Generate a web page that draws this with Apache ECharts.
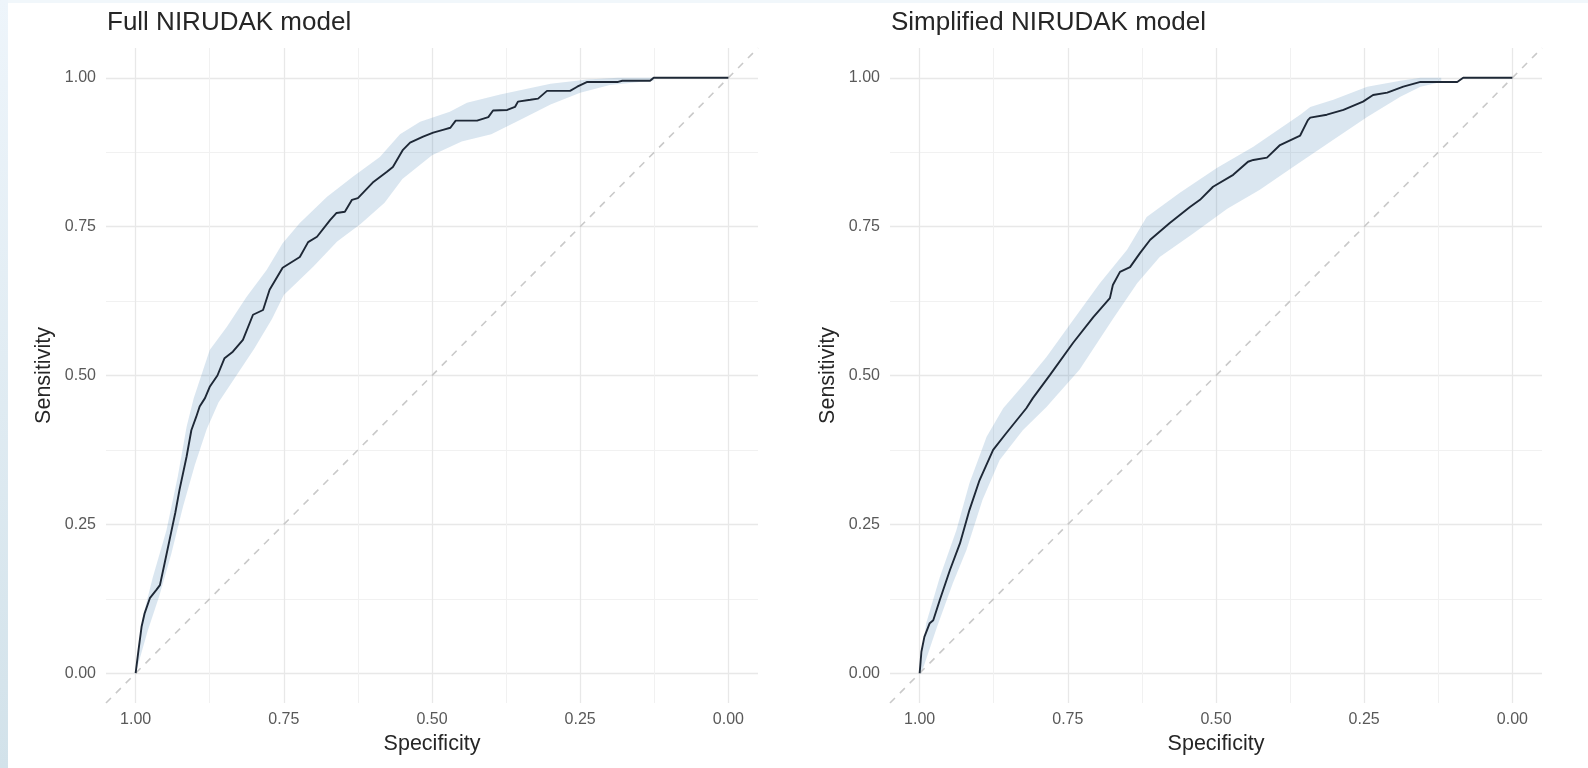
<!DOCTYPE html>
<html>
<head>
<meta charset="utf-8">
<script src="https://cdn.jsdelivr.net/npm/echarts@6/dist/echarts.min.js"></script>
<style>
  html, body { margin: 0; padding: 0; background: #ffffff; }
  #chart { width: 1588px; height: 768px; }
</style>
</head>
<body>
<div id="chart"></div>
<script>
// ---------- data ----------
const panelTitles = ['Full NIRUDAK model', 'Simplified NIRUDAK model'];
const xAxisTitle = 'Specificity';
const yAxisTitle = 'Sensitivity';
const majorTicks = [0, 0.25, 0.5, 0.75, 1];
const minorTicks = [0.125, 0.375, 0.625, 0.875];
const diagonal = [[1.05, -0.05], [-0.05, 1.05]];

// Full model ROC curve [specificity, sensitivity]
const fullCurve = [
  [1.0,0],[0.995,0.04],[0.99,0.078],[0.985,0.10],[0.976,0.126],[0.965,0.14],[0.959,0.148],
  [0.951,0.185],[0.94,0.237],[0.933,0.27],[0.926,0.308],[0.914,0.364],[0.906,0.408],[0.898,0.43],
  [0.892,0.448],[0.883,0.462],[0.875,0.481],[0.862,0.50],[0.85,0.529],[0.836,0.540],[0.819,0.56],
  [0.802,0.602],[0.785,0.61],[0.774,0.644],[0.752,0.681],[0.723,0.699],[0.709,0.724],[0.694,0.733],
  [0.672,0.761],[0.661,0.773],[0.647,0.775],[0.635,0.795],[0.625,0.798],[0.60,0.824],[0.576,0.842],
  [0.566,0.85],[0.549,0.879],[0.537,0.891],[0.515,0.901],[0.498,0.908],[0.48,0.913],[0.469,0.916],
  [0.46,0.928],[0.424,0.928],[0.405,0.934],[0.397,0.945],[0.373,0.946],[0.36,0.951],[0.355,0.960],
  [0.334,0.963],[0.321,0.965],[0.306,0.978],[0.267,0.978],[0.255,0.985],[0.238,0.993],[0.186,0.993],
  [0.179,0.995],[0.132,0.995],[0.126,1.0],[0.0,1.0]
];
const fullUpper = [
  [1.0,0],[0.988,0.094],[0.971,0.161],[0.948,0.24],[0.929,0.33],[0.914,0.414],[0.902,0.462],
  [0.875,0.543],[0.846,0.582],[0.813,0.632],[0.779,0.677],[0.752,0.722],[0.723,0.756],[0.677,0.80],
  [0.633,0.834],[0.588,0.867],[0.554,0.905],[0.52,0.926],[0.47,0.943],[0.441,0.958],[0.385,0.972],
  [0.30,0.99],[0.238,0.997],[0.186,1.0],[0.126,1.0]
];
const fullLower = [
  [1.0,0],[0.98,0.07],[0.96,0.13],[0.94,0.20],[0.92,0.28],[0.90,0.35],[0.88,0.41],[0.86,0.455],
  [0.83,0.50],[0.80,0.545],[0.77,0.595],[0.75,0.635],[0.70,0.683],[0.66,0.725],[0.62,0.755],
  [0.58,0.79],[0.55,0.83],[0.50,0.87],[0.45,0.893],[0.40,0.905],[0.35,0.93],[0.30,0.955],
  [0.25,0.975],[0.20,0.988],[0.15,0.993],[0.126,0.995]
];

// Simplified model ROC curve [specificity, sensitivity]
const simpCurve = [
  [1.0,0],[0.997,0.036],[0.992,0.061],[0.983,0.084],[0.977,0.089],[0.966,0.123],[0.949,0.173],
  [0.932,0.218],[0.916,0.274],[0.899,0.324],[0.876,0.375],[0.854,0.403],[0.82,0.445],[0.809,0.462],
  [0.78,0.501],[0.741,0.555],[0.707,0.598],[0.679,0.630],[0.674,0.652],[0.662,0.674],[0.645,0.682],
  [0.628,0.706],[0.611,0.728],[0.578,0.756],[0.544,0.783],[0.527,0.795],[0.505,0.817],[0.471,0.837],
  [0.446,0.859],[0.437,0.862],[0.414,0.866],[0.392,0.887],[0.358,0.903],[0.345,0.929],[0.341,0.933],
  [0.313,0.938],[0.285,0.946],[0.252,0.960],[0.235,0.971],[0.211,0.975],[0.184,0.985],[0.155,0.993],
  [0.093,0.993],[0.083,1.0],[0.0,1.0]
];
const simpUpper = [
  [1.0,0],[0.989,0.084],[0.966,0.161],[0.938,0.24],[0.916,0.319],[0.887,0.397],[0.859,0.445],
  [0.82,0.49],[0.786,0.531],[0.741,0.593],[0.696,0.655],[0.65,0.711],[0.617,0.766],[0.561,0.807],
  [0.498,0.849],[0.437,0.884],[0.387,0.918],[0.358,0.938],[0.341,0.951],[0.302,0.963],[0.245,0.985],
  [0.189,0.995],[0.155,1.0],[0.12,1.0]
];
const simpLower = [
  [0.997,0],[0.971,0.077],[0.944,0.151],[0.921,0.207],[0.894,0.291],[0.865,0.358],[0.826,0.408],
  [0.786,0.447],[0.77,0.465],[0.73,0.51],[0.674,0.595],[0.633,0.655],[0.595,0.699],[0.539,0.738],
  [0.481,0.78],[0.426,0.812],[0.37,0.85],[0.302,0.896],[0.245,0.934],[0.189,0.968],[0.155,0.985],
  [0.12,0.993]
];

// ---------- styles ----------
const BAND = 'rgba(70,130,180,0.2)';
const CURVE = '#1e2836';
const MAJOR_GRID = '#e8e8e8';
const MINOR_GRID = '#f1f1f1';
const TICK_TXT = '#595959';
const TITLE_TXT = '#262626';
const FONT = '"Liberation Sans", Arial, Helvetica, sans-serif';

const panels = [
  { title: panelTitles[0], curve: fullCurve, upper: fullUpper, lower: fullLower, left: 106 },
  { title: panelTitles[1], curve: simpCurve, upper: simpUpper, lower: simpLower, left: 890 }
];

const fmt = v => v.toFixed(2);

const grids = [], xAxes = [], yAxes = [], series = [], titles = [];

panels.forEach((p, i) => {
  grids.push({ left: p.left, top: 48, width: 652, height: 655 });
  titles.push({
    text: p.title, left: p.left + 1, top: 10, padding: 0,
    textStyle: { fontFamily: FONT, fontSize: 26, fontWeight: 'normal', color: TITLE_TXT }
  });
  // major x
  xAxes.push({
    type: 'value', gridIndex: i, min: -0.05, max: 1.05, inverse: true, position: 'bottom',
    name: xAxisTitle, nameLocation: 'middle', nameGap: 30,
    nameTextStyle: { fontFamily: FONT, fontSize: 21.5, color: TITLE_TXT },
    axisLine: { show: false },
    axisTick: { show: false, customValues: majorTicks },
    axisLabel: { customValues: majorTicks, formatter: fmt, margin: 9,
      fontFamily: FONT, fontSize: 16, color: TICK_TXT },
    splitLine: { show: true, lineStyle: { color: MAJOR_GRID, width: 1.3 } }
  });
  // minor x
  xAxes.push({
    type: 'value', gridIndex: i, min: -0.05, max: 1.05, inverse: true, position: 'top',
    axisLine: { show: false },
    axisTick: { show: false, customValues: minorTicks },
    axisLabel: { show: false },
    splitLine: { show: true, lineStyle: { color: MINOR_GRID, width: 1 } }
  });
  // major y
  yAxes.push({
    type: 'value', gridIndex: i, min: -0.05, max: 1.05, position: 'left',
    name: yAxisTitle, nameLocation: 'middle', nameGap: 51,
    nameTextStyle: { fontFamily: FONT, fontSize: 21.5, color: TITLE_TXT },
    axisLine: { show: false },
    axisTick: { show: false, customValues: majorTicks },
    axisLabel: { customValues: majorTicks, formatter: fmt, margin: 10,
      fontFamily: FONT, fontSize: 16, color: TICK_TXT },
    splitLine: { show: true, lineStyle: { color: MAJOR_GRID, width: 1.3 } }
  });
  // minor y
  yAxes.push({
    type: 'value', gridIndex: i, min: -0.05, max: 1.05, position: 'right',
    axisLine: { show: false },
    axisTick: { show: false, customValues: minorTicks },
    axisLabel: { show: false },
    splitLine: { show: true, lineStyle: { color: MINOR_GRID, width: 1 } }
  });

  const upper = p.upper, lower = p.lower;
  series.push({
    type: 'custom', coordinateSystem: 'cartesian2d',
    xAxisIndex: 2 * i, yAxisIndex: 2 * i, z: 1, silent: true, clip: true,
    data: upper,
    renderItem: function (params, api) {
      if (params.dataIndex !== 0) return null;
      const pts = upper.map(q => api.coord(q))
        .concat(lower.slice().reverse().map(q => api.coord(q)));
      return { type: 'polygon', shape: { points: pts }, style: { fill: BAND } };
    }
  });
  series.push({
    type: 'line', xAxisIndex: 2 * i, yAxisIndex: 2 * i, z: 2, silent: true,
    data: diagonal, showSymbol: false, symbol: 'none',
    lineStyle: { color: '#c9c9c9', width: 1.6, type: [7, 7] }
  });
  series.push({
    type: 'line', xAxisIndex: 2 * i, yAxisIndex: 2 * i, z: 3, silent: true,
    data: p.curve, showSymbol: false, symbol: 'none',
    lineStyle: { color: CURVE, width: 1.9 }
  });
});

const chart = echarts.init(document.getElementById('chart'), null, { renderer: 'canvas' });
chart.setOption({
  animation: false,
  backgroundColor: '#ffffff',
  graphic: [
    { type: 'rect', left: 0, top: 0, z: -10, silent: true,
      shape: { width: 8, height: 768 },
      style: { fill: new echarts.graphic.LinearGradient(0, 0, 0, 1, [
        { offset: 0, color: '#eef5fb' }, { offset: 1, color: '#d2e2ea' }]) } },
    { type: 'rect', left: 8, top: 0, z: -10, silent: true,
      shape: { width: 1580, height: 3 },
      style: { fill: '#f1f7fb' } }
  ],
  title: titles,
  grid: grids,
  xAxis: xAxes,
  yAxis: yAxes,
  series: series
});
</script>
</body>
</html>
